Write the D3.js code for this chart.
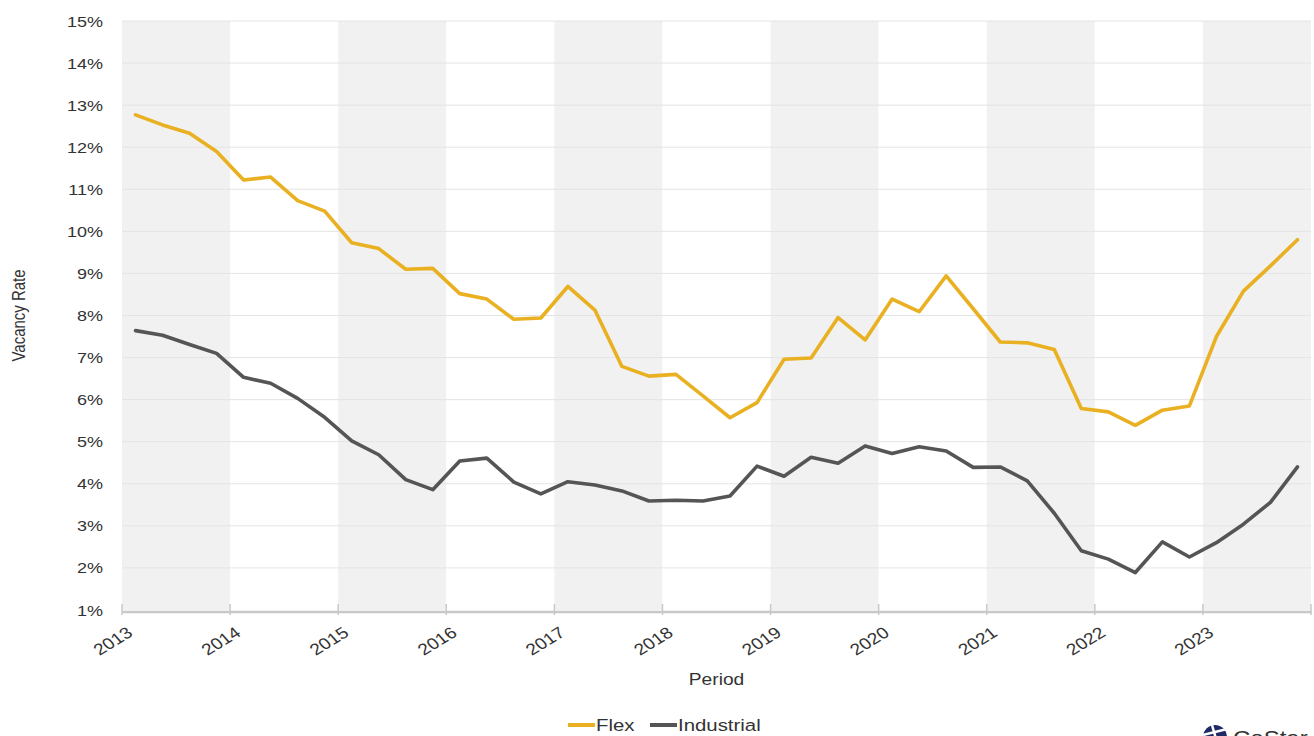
<!DOCTYPE html>
<html>
<head>
<meta charset="utf-8">
<script src="https://cdn.jsdelivr.net/npm/d3@7"></script>
<style>
  body { margin: 0; background: #fff; }
  svg { display: block; }
  text { font-family: "Liberation Sans", Arial, sans-serif; fill: #333; }
</style>
</head>
<body>
<svg id="chart" width="1314" height="736"></svg>
<script>
// ---- data ----
const periods = [
  "2013 Q1","2013 Q2","2013 Q3","2013 Q4",
  "2014 Q1","2014 Q2","2014 Q3","2014 Q4",
  "2015 Q1","2015 Q2","2015 Q3","2015 Q4",
  "2016 Q1","2016 Q2","2016 Q3","2016 Q4",
  "2017 Q1","2017 Q2","2017 Q3","2017 Q4",
  "2018 Q1","2018 Q2","2018 Q3","2018 Q4",
  "2019 Q1","2019 Q2","2019 Q3","2019 Q4",
  "2020 Q1","2020 Q2","2020 Q3","2020 Q4",
  "2021 Q1","2021 Q2","2021 Q3","2021 Q4",
  "2022 Q1","2022 Q2","2022 Q3","2022 Q4",
  "2023 Q1","2023 Q2","2023 Q3","2023 Q4"
];
const flex = [
  12.77, 12.53, 12.33, 11.90,
  11.22, 11.29, 10.73, 10.48,
   9.73,  9.59,  9.10,  9.12,
   8.52,  8.39,  7.91,  7.94,
   8.69,  8.13,  6.79,  6.56,
   6.60,  6.09,  5.57,  5.93,
   6.96,  6.99,  7.95,  7.42,
   8.39,  8.09,  8.94,  8.16,
   7.37,  7.35,  7.19,  5.79,
   5.71,  5.39,  5.75,  5.85,
   7.50,  8.58,  9.18,  9.80
];
const industrial = [
  7.64, 7.53, 7.31, 7.10,
  6.53, 6.39, 6.03, 5.58,
  5.02, 4.69, 4.10, 3.86,
  4.54, 4.61, 4.04, 3.76,
  4.05, 3.97, 3.83, 3.59,
  3.61, 3.59, 3.71, 4.42,
  4.18, 4.63, 4.49, 4.90,
  4.72, 4.88, 4.78, 4.39,
  4.40, 4.07, 3.30, 2.41,
  2.21, 1.89, 2.62, 2.26,
  2.60, 3.04, 3.56, 4.40
];
const seriesNames = ["Flex", "Industrial"];
const seriesColors = ["#E9B021", "#555555"];
const yTickValues = [1,2,3,4,5,6,7,8,9,10,11,12,13,14,15];
const xTickYears = [2013,2014,2015,2016,2017,2018,2019,2020,2021,2022,2023,2024];
const xTickLabels = ["2013","2014","2015","2016","2017","2018","2019","2020","2021","2022","2023",""];
const yAxisTitle = "Vacancy Rate";
const xAxisTitle = "Period";

// ---- layout ----
const svg = d3.select("#chart");
const plot = { left: 122, right: 1311, top: 21, bottom: 610 };
const SX = 1.2; // horizontal text stretch

const x = d3.scaleLinear().domain([2013, 2024]).range([plot.left, plot.right]);
const y = d3.scaleLinear().domain([1, 15]).range([plot.bottom, plot.top]);

function periodValue(p) {
  const [yr, q] = p.split(" Q");
  return +yr + (+q - 0.5) / 4;
}

// alternating year bands
const bandYears = xTickYears.slice(0, -1);
svg.append("g").selectAll("rect").data(bandYears).join("rect")
  .attr("x", d => x(d))
  .attr("y", y(15))
  .attr("width", d => x(d + 1) - x(d))
  .attr("height", y(1) - y(15))
  .attr("fill", (d, i) => i % 2 === 0 ? "#f1f1f1" : "#ffffff");

// gridlines
svg.append("g").selectAll("line").data(yTickValues.slice(1)).join("line")
  .attr("x1", plot.left).attr("x2", plot.right)
  .attr("y1", d => y(d)).attr("y2", d => y(d))
  .attr("stroke", "#e4e4e4").attr("stroke-width", 1);

// y tick labels
svg.append("g").selectAll("text").data(yTickValues).join("text")
  .attr("transform", d => `translate(103,${y(d) + 5.5}) scale(${SX},1)`)
  .attr("text-anchor", "end")
  .attr("font-size", 15)
  .text(d => d + "%");

// x axis line + ticks
const xAxis = d3.axisBottom(x).tickValues(xTickYears).tickSize(0).tickFormat("");
const gx = svg.append("g").attr("transform", `translate(0,${plot.bottom + 1.5})`).call(xAxis);
gx.select(".domain").attr("stroke", "#c8c8c8").attr("stroke-width", 2.5);
svg.append("g").selectAll("line").data(xTickYears).join("line")
  .attr("x1", d => x(d)).attr("x2", d => x(d))
  .attr("y1", plot.bottom - 6).attr("y2", plot.bottom + 5)
  .attr("stroke", "#c8c8c8").attr("stroke-width", 1.5);

// x tick labels
svg.append("g").selectAll("text").data(xTickYears).join("text")
  .attr("transform", d => `translate(${x(d) + 12},${plot.bottom + 25}) scale(${SX},1) rotate(-36)`)
  .attr("text-anchor", "end")
  .attr("font-size", 16)
  .text((d, i) => xTickLabels[i]);

// axis titles
svg.append("text")
  .attr("transform", `translate(25,${(plot.top + plot.bottom) / 2}) scale(${SX},1) rotate(-90)`)
  .attr("text-anchor", "middle")
  .attr("font-size", 15)
  .text(yAxisTitle);

svg.append("text")
  .attr("transform", `translate(${(plot.left + plot.right) / 2},685) scale(${SX},1)`)
  .attr("text-anchor", "middle")
  .attr("font-size", 16)
  .text(xAxisTitle);

// lines
const line = d3.line()
  .x((d, i) => x(periodValue(periods[i])))
  .y(d => y(d))
  .curve(d3.curveLinear);

[flex, industrial].forEach((vals, k) => {
  svg.append("path")
    .datum(vals)
    .attr("d", line)
    .attr("fill", "none")
    .attr("stroke", seriesColors[k])
    .attr("stroke-width", 3.6)
    .attr("stroke-linejoin", "round")
    .attr("stroke-linecap", "round");
});

// legend
const legendItems = [
  { name: seriesNames[0], color: seriesColors[0], x: 568 },
  { name: seriesNames[1], color: seriesColors[1], x: 650 }
];
const lg = svg.append("g");
legendItems.forEach(it => {
  lg.append("line")
    .attr("x1", it.x).attr("x2", it.x + 27)
    .attr("y1", 725).attr("y2", 725)
    .attr("stroke", it.color).attr("stroke-width", 4);
  lg.append("text")
    .attr("transform", `translate(${it.x + 28},731) scale(${SX},1)`)
    .attr("font-size", 17)
    .text(it.name);
});

// CoStar logo (cut off at bottom edge)
const logo = svg.append("g").attr("transform", "translate(1215,737)");
logo.append("circle").attr("r", 12).attr("fill", "#1f2a66");
logo.append("path").attr("d", "M-12,-2 L12,-8").attr("stroke", "#fff").attr("stroke-width", 2.5);
logo.append("path").attr("d", "M-3,-12 L4,12").attr("stroke", "#fff").attr("stroke-width", 2.5);
svg.append("text")
  .attr("transform", `translate(1233,745) scale(${SX},1)`)
  .attr("font-size", 20)
  .attr("fill", "#3a3a3a")
  .text("CoStar");
</script>
</body>
</html>
